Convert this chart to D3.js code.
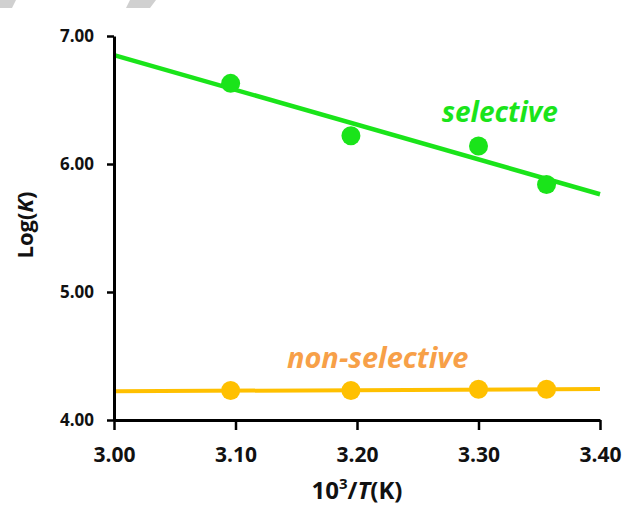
<!DOCTYPE html>
<html>
<head>
<meta charset="utf-8">
<script src="https://cdn.jsdelivr.net/npm/d3@7"></script>
<style>
  body { margin: 0; background: #fff; }
  text { font-family: "Open Sans", Lato, sans-serif; font-weight: bold; }
</style>
</head>
<body>
<div id="wrapper"></div>
<script>
// data
const invT = [3.096, 3.195, 3.300, 3.356]
const selectiveLogK = [6.63, 6.22, 6.14, 5.84]
const nonSelectiveLogK = [4.23, 4.23, 4.24, 4.24]
const xTicks = [3.0, 3.1, 3.2, 3.3, 3.4]
const yTicks = [4, 5, 6, 7]

const green = '#1ae41a'
const gold = '#ffc000'
const orangeText = '#f7a048'

let dimensions = {
  width: 625,
  height: 508,
  margin: { top: 36, right: 25, bottom: 88, left: 114 }
}
dimensions.boundedWidth = dimensions.width - dimensions.margin.left - dimensions.margin.right
dimensions.boundedHeight = dimensions.height - dimensions.margin.top - dimensions.margin.bottom

const svg = d3.select('#wrapper')
  .append('svg')
    .attr('width', dimensions.width)
    .attr('height', dimensions.height)

// faint watermark at the top edge
svg.append('g').attr('fill', '#d0d0d0')
  .selectAll('polygon')
  .data([[[0, 0], [16, 0], [12, 8], [0, 8]], [[130, 0], [156, 0], [150, 8], [126, 8]]])
  .join('polygon')
    .attr('points', d => d.join(' '))

const bounds = svg.append('g')
  .attr('transform', `translate(${dimensions.margin.left},${dimensions.margin.top})`)

const xScale = d3.scaleLinear()
  .domain([3.0, 3.4])
  .range([0, dimensions.boundedWidth])

const yScale = d3.scaleLinear()
  .domain([4, 7])
  .range([dimensions.boundedHeight, 0])

// least squares trend line
function fit(xs, ys) {
  const mx = d3.mean(xs), my = d3.mean(ys)
  const sxy = d3.sum(xs, (x, i) => (x - mx) * (ys[i] - my))
  const sxx = d3.sum(xs, x => (x - mx) ** 2)
  const b = sxy / sxx
  return x => my + b * (x - mx)
}

const series = [
  { values: selectiveLogK, color: green, width: 4.5 },
  { values: nonSelectiveLogK, color: gold, width: 4 }
]

series.forEach(s => {
  const f = fit(invT, s.values)
  const ends = xScale.domain()
  bounds.append('line')
    .attr('x1', xScale(ends[0]))
    .attr('y1', yScale(f(ends[0])))
    .attr('x2', xScale(ends[1]))
    .attr('y2', yScale(f(ends[1])))
    .attr('stroke', s.color)
    .attr('stroke-width', s.width)

  bounds.append('g')
    .selectAll('circle')
    .data(invT)
    .join('circle')
      .attr('cx', d => xScale(d))
      .attr('cy', (d, i) => yScale(s.values[i]))
      .attr('r', 9.5)
      .attr('fill', s.color)
})

// axes
const xAxis = bounds.append('g')
  .attr('transform', `translate(0,${dimensions.boundedHeight})`)
  .call(d3.axisBottom(xScale).tickValues(xTicks).tickFormat(d3.format('.2f')).tickSize(10).tickSizeOuter(0))
xAxis.select('.domain').attr('stroke', '#000').attr('stroke-width', 3)
xAxis.selectAll('.tick line').attr('stroke-width', 2.5)
xAxis.selectAll('.tick text')
  .attr('y', 27)
  .attr('font-size', 21)
  .attr('fill', '#111')

const yAxis = bounds.append('g')
  .call(d3.axisLeft(yScale).tickValues(yTicks).tickFormat(d3.format('.2f')).tickSize(7).tickSizeOuter(0))
yAxis.select('.domain').attr('stroke', '#000').attr('stroke-width', 3)
yAxis.selectAll('.tick line').attr('stroke-width', 2.5)
yAxis.selectAll('.tick text')
  .attr('x', -20)
  .attr('font-size', 17)
  .attr('fill', '#111')

// axis titles
const xTitle = svg.append('text')
  .attr('x', dimensions.margin.left + dimensions.boundedWidth / 2)
  .attr('y', 499)
  .attr('text-anchor', 'middle')
  .attr('font-size', 24)
  .attr('fill', '#111')
xTitle.append('tspan').text('10')
xTitle.append('tspan').text('3').attr('font-size', 15).attr('dy', -10)
xTitle.append('tspan').text('/').attr('dy', 10)
xTitle.append('tspan').text('T').attr('font-style', 'italic')
xTitle.append('tspan').text('(K)')

const yTitle = svg.append('text')
  .attr('transform', 'translate(33,225) rotate(-90)')
  .attr('text-anchor', 'middle')
  .attr('font-size', 22)
  .attr('fill', '#111')
yTitle.append('tspan').text('Log(')
yTitle.append('tspan').text('K').attr('font-style', 'italic')
yTitle.append('tspan').text(')')

// series labels
bounds.append('text')
  .attr('x', xScale(3.3175))
  .attr('y', yScale(6.33))
  .attr('text-anchor', 'middle')
  .attr('font-size', 28)
  .attr('font-style', 'italic')
  .attr('fill', green)
  .text('selective')

bounds.append('text')
  .attr('x', xScale(3.217))
  .attr('y', yScale(4.41))
  .attr('text-anchor', 'middle')
  .attr('font-size', 29)
  .attr('font-style', 'italic')
  .attr('fill', orangeText)
  .text('non-selective')
</script>
</body>
</html>
